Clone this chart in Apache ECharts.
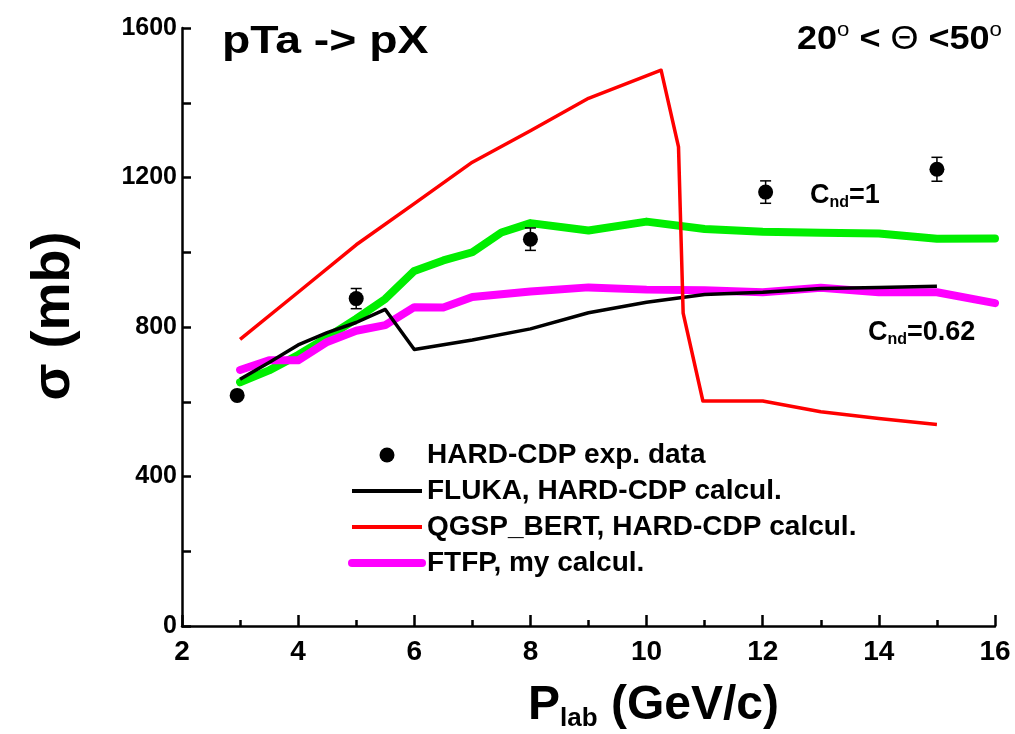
<!DOCTYPE html>
<html>
<head>
<meta charset="utf-8">
<title>pTa -> pX cross section</title>
<script src="https://cdn.jsdelivr.net/npm/echarts@6/dist/echarts.min.js"></script>
<style>
  html, body { margin: 0; padding: 0; background: #fff; }
  #chart { width: 1015px; height: 734px; }
</style>
</head>
<body>
<div id="chart"></div>
<script>
// Measured points: [P_lab (GeV/c), sigma (mb), error (mb)]
const expP   = [2.95, 5, 8, 12.05, 15];
const expSig = [617, 876, 1035, 1161, 1222];
const expErr = [7, 27, 30, 30, 32];

// Model curves: [P_lab, sigma]
const fluka = [[3,660],[3.5,705],[4,752],[4.5,785],[5,812],[5.5,847],[6,740],[7,765],[8,795],
               [9,838],[10,866],[11,887],[12,893],[13,903],[14,906],[15,909]];
const qgsp  = [[3,767],[4,893],[5,1020],[6,1130],[7,1241],[8,1325],[9,1412],[10.25,1487],
               [10.55,1282],[10.63,837],[10.97,602],[12,602],[13,573],[14,555],[15,539]];
const ftfpC1 = [[3,652],[3.5,684],[4,725],[4.5,772],[5,822],[5.5,875],[6,950],[6.5,978],[7,1000],
                [7.5,1053],[8,1078],[9,1058],[10,1082],[11,1062],[12,1055],[13,1052],[14,1050],
                [15,1036],[16,1037]];
const ftfpC062 = [[3,685],[3.5,711],[4,711],[4.5,760],[5,790],[5.5,805],[6,853],[6.5,852],[7,880],
                  [8,895],[9,906],[10,900],[11,898],[12,893],[13,905],[14,893],[15,893],[16,864]];

const xTicks = { min: 2, max: 16, step: 2 };
const yTicks = { min: 0, max: 1600, step: 200, labelStep: 400 };

const FONT = '"Liberation Sans", Arial, Helvetica, sans-serif';

const expData = expP.map((p, i) => [p, expSig[i], expErr[i]]);

const chart = echarts.init(document.getElementById('chart'), null, { renderer: 'canvas' });

// legend entries for curves show only the stroke, no marker
const lineOnly = { opacity: 0 };

chart.setOption({
  backgroundColor: '#ffffff',
  animation: false,
  grid: { left: 182, right: 20, top: 28, bottom: 108, containLabel: false },
  xAxis: {
    type: 'value',
    min: xTicks.min, max: xTicks.max, interval: xTicks.step,
    axisLine: { show: true, lineStyle: { color: '#000', width: 2.5 } },
    axisTick: { show: true, inside: true, length: 11, lineStyle: { color: '#000', width: 2.5 } },
    minorTick: { show: true, splitNumber: 2, length: 6, lineStyle: { color: '#000', width: 2.5 } },
    splitLine: { show: false },
    axisLabel: { color: '#000', fontFamily: FONT, fontWeight: 'bold', fontSize: 28, margin: 12 }
  },
  yAxis: {
    type: 'value',
    min: yTicks.min, max: yTicks.max, interval: yTicks.step,
    axisLine: { show: true, lineStyle: { color: '#000', width: 2.5 } },
    axisTick: { show: true, inside: true, length: 9, lineStyle: { color: '#000', width: 2.5 } },
    splitLine: { show: false },
    axisLabel: {
      color: '#000', fontFamily: FONT, fontWeight: 'bold', fontSize: 25, margin: 5,
      formatter: v => (v % yTicks.labelStep === 0 ? String(v) : '')
    }
  },
  legend: {
    orient: 'vertical',
    left: 348, top: 441, padding: 0,
    itemWidth: 70, itemHeight: 15, itemGap: 8,
    selectedMode: false,
    textStyle: { color: '#000', fontFamily: FONT, fontWeight: 'bold', fontSize: 28 },
    data: [
      { name: 'HARD-CDP exp. data', icon: 'circle', itemStyle: { color: '#000', opacity: 1 } },
      { name: 'FLUKA, HARD-CDP calcul.', itemStyle: lineOnly, lineStyle: { width: 4 } },
      { name: 'QGSP_BERT, HARD-CDP calcul.', itemStyle: lineOnly, lineStyle: { width: 4 } },
      { name: 'FTFP, my calcul.', itemStyle: lineOnly, lineStyle: { width: 8 } }
    ]
  },
  series: [
    {
      name: 'FTFP, C_nd=1', type: 'line', data: ftfpC1, showSymbol: false, symbol: 'none',
      lineStyle: { color: '#00ee00', width: 8, join: 'round', cap: 'round' }, z: 2
    },
    {
      name: 'FTFP, my calcul.', type: 'line', data: ftfpC062, showSymbol: false, symbol: 'none',
      lineStyle: { color: '#ff00ff', width: 8, join: 'round', cap: 'round' },
      itemStyle: { color: '#ff00ff' }, z: 3
    },
    {
      name: 'FLUKA, HARD-CDP calcul.', type: 'line', data: fluka, showSymbol: false, symbol: 'none',
      lineStyle: { color: '#000000', width: 3.5, join: 'round' },
      itemStyle: { color: '#000000' }, z: 4
    },
    {
      name: 'QGSP_BERT, HARD-CDP calcul.', type: 'line', data: qgsp, showSymbol: false, symbol: 'none',
      lineStyle: { color: '#ff0000', width: 3.5, join: 'round' },
      itemStyle: { color: '#ff0000' }, z: 5
    },
    {
      name: 'error bars', type: 'custom', data: expData, z: 6, silent: true,
      renderItem: (params, api) => {
        const x = api.value(0), y = api.value(1), e = api.value(2);
        const top = api.coord([x, y + e]);
        const bot = api.coord([x, y - e]);
        const half = 5.5;
        const st = { stroke: '#000', lineWidth: 1.5 };
        return {
          type: 'group',
          children: [
            { type: 'line', shape: { x1: top[0], y1: top[1], x2: bot[0], y2: bot[1] }, style: st },
            { type: 'line', shape: { x1: top[0] - half, y1: top[1], x2: top[0] + half, y2: top[1] }, style: st },
            { type: 'line', shape: { x1: bot[0] - half, y1: bot[1], x2: bot[0] + half, y2: bot[1] }, style: st }
          ]
        };
      }
    },
    {
      name: 'HARD-CDP exp. data', type: 'scatter', data: expData.map(d => [d[0], d[1]]),
      symbol: 'circle', symbolSize: 15, itemStyle: { color: '#000', opacity: 1 }, z: 7
    }
  ],
  graphic: [
    {
      type: 'text', x: 222, y: 43, scaleX: 1.22,
      style: {
        text: 'pTa -> pX', fill: '#000', font: 'bold 38px ' + FONT,
        align: 'left', verticalAlign: 'middle'
      }
    },
    {
      type: 'text', x: 1002, y: 40, scaleX: 1.06,
      style: {
        text: '{n|20}{s|o}{n| < }{t|Θ}{n| <50}{s|o}', align: 'right', verticalAlign: 'middle',
        rich: {
          n: { fontFamily: FONT, fontWeight: 'bold', fontSize: 34, fill: '#000' },
          t: { fontFamily: FONT, fontWeight: 'normal', fontSize: 34, fill: '#000' },
          s: { fontFamily: FONT, fontWeight: 'normal', fontSize: 21, fill: '#000', padding: [0, 0, 20, 0] }
        }
      }
    },
    {
      type: 'text', x: 810, y: 196,
      style: {
        text: '{c|C}{d|nd}{c|=1}', align: 'left', verticalAlign: 'middle',
        rich: {
          c: { fontFamily: FONT, fontWeight: 'bold', fontSize: 27, fill: '#000' },
          d: { fontFamily: FONT, fontWeight: 'bold', fontSize: 16, fill: '#000', padding: [14, 0, 0, 0] }
        }
      }
    },
    {
      type: 'text', x: 868, y: 333,
      style: {
        text: '{c|C}{d|nd}{c|=0.62}', align: 'left', verticalAlign: 'middle',
        rich: {
          c: { fontFamily: FONT, fontWeight: 'bold', fontSize: 27, fill: '#000' },
          d: { fontFamily: FONT, fontWeight: 'bold', fontSize: 16, fill: '#000', padding: [14, 0, 0, 0] }
        }
      }
    },
    {
      type: 'text', x: 54, y: 316, rotation: Math.PI / 2,
      style: {
        text: 'σ (mb)', fill: '#000', font: 'bold 54px ' + FONT,
        align: 'center', verticalAlign: 'middle'
      }
    },
    {
      type: 'text', x: 528, y: 706,
      style: {
        text: '{p|P}{l|lab}{p| (GeV/c)}', align: 'left', verticalAlign: 'middle',
        rich: {
          p: { fontFamily: FONT, fontWeight: 'bold', fontSize: 48, fill: '#000' },
          l: { fontFamily: FONT, fontWeight: 'bold', fontSize: 26, fill: '#000', padding: [26, 0, 0, 0] }
        }
      }
    }
  ]
});
</script>
</body>
</html>
